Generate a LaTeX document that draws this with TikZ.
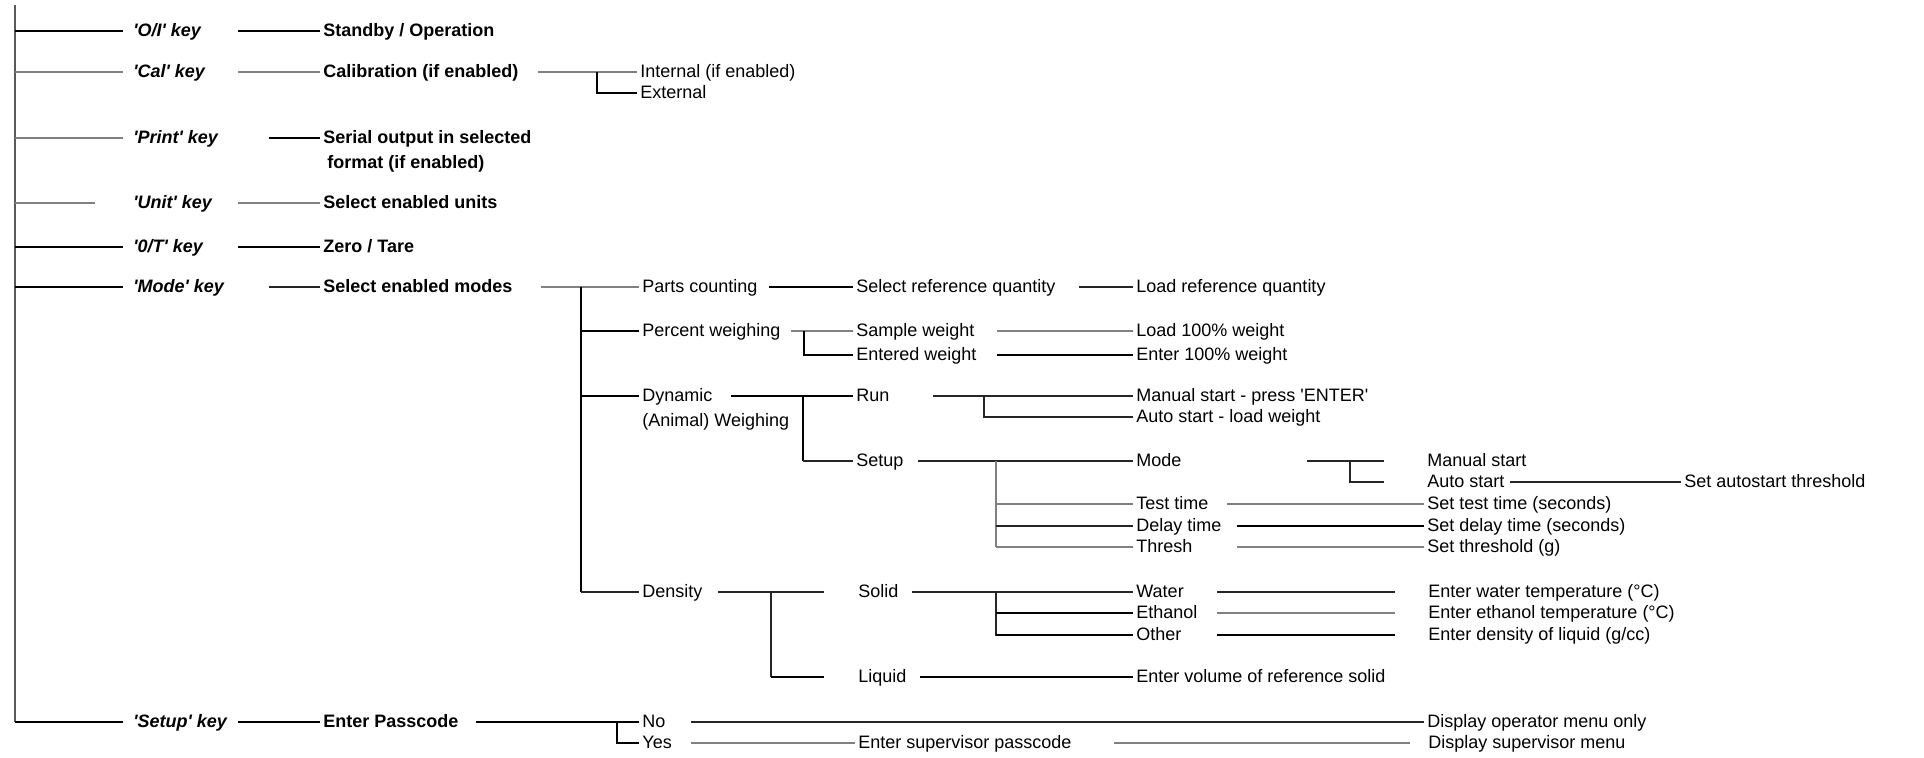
\documentclass[tikz,border=0pt]{standalone}
\usepackage{fontspec}
\setmainfont{Liberation Sans}[Ligatures=TeXOff]
\usetikzlibrary{positioning}

\begin{document}
\begin{tikzpicture}[x=0.5pt,y=-0.5pt,
    font=\fontsize{9}{11}\selectfont,
    every node/.style={anchor=west,inner sep=1.5pt,
        text height=1.55ex,text depth=.45ex},
    keytext/.style={font=\fontsize{9}{11}\selectfont\bfseries\itshape},
    action/.style={font=\fontsize{9}{11}\selectfont\bfseries},
    darkline/.style={line width=1.1pt},
    thinline/.style={line width=0.7pt,black!85},
    greyline/.style={line width=0.6pt,black!50},
    spineline/.style={line width=0.8pt,black!65}]

\useasboundingbox (0,0) rectangle (1924,757);

% Keys
\node[keytext] (oikey) at (130,31) {'O/I' key};
\node[keytext] (calkey) at (130,72) {'Cal' key};
\node[keytext] (printkey) at (130,138) {'Print' key};
\node[keytext] (unitkey) at (130,203) {'Unit' key};
\node[keytext] (zerokey) at (130,247) {'0/T' key};
\node[keytext] (modekey) at (130,287) {'Mode' key};
\node[keytext] (setupkey) at (130,722) {'Setup' key};

% Key actions
\node[action] (standby) at (320,31) {Standby / Operation};
\node[action] (calib) at (320,72) {Calibration (if enabled)};
\node[action] (serial) at (320,138) {Serial output in selected};
\node[action,
    below right=-1.5pt and 2pt of serial.south west
] (serialb) {format (if enabled)};
\node[action] (units) at (320,203) {Select enabled units};
\node[action] (zerotare) at (320,247) {Zero / Tare};
\node[action] (modes) at (320,287) {Select enabled modes};
\node[action] (passcode) at (320,722) {Enter Passcode};

% Calibration
\node (internal) at (637,72) {Internal (if enabled)};
\node (external) at (637,93) {External};

% Modes
\node (parts) at (639,287) {Parts counting};
\node (percent) at (639,331) {Percent weighing};
\node (dynamic) at (639,396) {Dynamic};
\node[below right=-1.5pt and 0pt of dynamic.south west] (dynamicb) {(Animal) Weighing};
\node (density) at (639,592) {Density};

\node (selref) at (853,287) {Select reference quantity};
\node (sample) at (853,331) {Sample weight};
\node (entered) at (853,355) {Entered weight};
\node (run) at (853,396) {Run};
\node (setup) at (853,461) {Setup};
\node (solid) at (855,592) {Solid};
\node (liquid) at (855,677) {Liquid};

\node (loadref) at (1133,287) {Load reference quantity};
\node (load100) at (1133,331) {Load 100\% weight};
\node (enter100) at (1133,355) {Enter 100\% weight};
\node (manstart) at (1133,396) {Manual start - press 'ENTER'};
\node (autoload) at (1133,417) {Auto start - load weight};
\node (smode) at (1133,461) {Mode};
\node (testtime) at (1133,504) {Test time};
\node (delay) at (1133,526) {Delay time};
\node (thresh) at (1133,547) {Thresh};
\node (water) at (1133,592) {Water};
\node (ethanol) at (1133,613) {Ethanol};
\node (other) at (1133,635) {Other};
\node (volume) at (1133,677) {Enter volume of reference solid};

\node (manual) at (1424,461) {Manual start};
\node (auto) at (1424,482) {Auto start};
\node (settest) at (1424,504) {Set test time (seconds)};
\node (setdelay) at (1424,526) {Set delay time (seconds)};
\node (setthresh) at (1424,547) {Set threshold (g)};
\node (watertemp) at (1425,592) {Enter water temperature (°C)};
\node (ethtemp) at (1425,613) {Enter ethanol temperature (°C)};
\node (dens) at (1425,635) {Enter density of liquid (g/cc)};
\node (autothr) at (1681,482) {Set autostart threshold};

% Setup passcode
\node (no) at (639,722) {No};
\node (yes) at (639,743) {Yes};
\node (supass) at (855,743) {Enter supervisor passcode};
\node (opmenu) at (1424,722) {Display operator menu only};
\node (supmenu) at (1425,743) {Display supervisor menu};

% Spine
\coordinate (spine) at (15,5);
\draw[spineline] (spine) -- (spine |- setupkey);

% Spine to keys
\draw[darkline] (spine |- oikey) -- ++(108,0);
\draw[greyline] (spine |- calkey) -- ++(108,0);
\draw[greyline] (spine |- printkey) -- ++(108,0);
\draw[greyline] (spine |- unitkey) -- ++(80,0);
\draw[darkline] (spine |- zerokey) -- ++(108,0);
\draw[darkline] (spine |- modekey) -- ++(108,0);
\draw[darkline] (spine |- setupkey) -- ++(108,0);

% Keys to actions
\draw[darkline] (standby.west) -- ++(-82,0);
\draw[greyline] (calib.west) -- ++(-82,0);
\draw[darkline] (serial.west) -- ++(-51,0);
\draw[greyline] (units.west) -- ++(-82,0);
\draw[darkline] (zerotare.west) -- ++(-82,0);
\draw[thinline] (modes.west) -- ++(-51,0);
\draw[darkline] (passcode.west) -- ++(-82,0);

% Calibration branch
\draw[greyline] (internal.west) -- ++(-99,0);
\draw[darkline] (internal.west) ++(-40,0) |- (external.west);

% Mode branch
\draw[greyline] (parts.west) -- ++(-98,0);
\draw[darkline] (parts.west) ++(-58,0) coordinate (mj) -- (mj |- density);
\draw[darkline] (mj |- percent) -- (percent.west);
\draw[darkline] (mj |- dynamic) -- (dynamic.west);
\draw[thinline] (mj |- density) -- (density.west);

\draw[darkline] (selref.west) -- ++(-84,0);
\draw[greyline] (sample.west) -- ++(-62,0);
\draw[darkline] (sample.west) ++(-49,0) |- (entered.west);
\draw[darkline] (run.west) -- ++(-122,0);
\draw[darkline] (run.west) ++(-50,0) coordinate (dj) -- (dj |- setup);
\draw[thinline] (dj |- setup) -- (setup.west);
\draw[thinline] (solid.west) ++(-31,0) -- ++(-106,0);
\draw[thinline] (solid.west) ++(-84,0) coordinate (sj) -- (sj |- liquid);
\draw[darkline] (sj |- liquid) -- ++(53,0);

\draw[thinline] (loadref.west) -- ++(-54,0);
\draw[greyline] (load100.west) -- ++(-136,0);
\draw[darkline] (enter100.west) -- ++(-136,0);
\draw[thinline] (manstart.west) -- ++(-200,0);
\draw[thinline] (manstart.west) ++(-149,0) |- (autoload.west);
\draw[thinline] (smode.west) -- ++(-215,0);
\draw[greyline] (smode.west) ++(-137,0) coordinate (tj) -- (tj |- thresh);
\draw[greyline] (testtime.west) -- ++(-137,0);
\draw[thinline] (delay.west) -- ++(-137,0);
\draw[greyline] (thresh.west) -- ++(-137,0);
\draw[thinline] (water.west) -- ++(-221,0);
\draw[thinline] (water.west) ++(-137,0) |- (other.west);
\draw[darkline] (ethanol.west) -- ++(-137,0);
\draw[darkline] (other.west) -- ++(-137,0);
\draw[darkline] (volume.west) -- ++(-213,0);

\draw[thinline] (manual.west) ++(-40,0) -- ++(-77,0);
\draw[thinline] (manual.west) ++(-74,0) -- ++(0,21) -- ++(34,0);
\draw[thinline] (autothr.west) -- ++(-171,0);
\draw[greyline] (settest.west) -- ++(-197,0);
\draw[darkline] (setdelay.west) -- ++(-187,0);
\draw[greyline] (setthresh.west) -- ++(-187,0);
\draw[thinline] (watertemp.west) ++(-30,0) -- ++(-178,0);
\draw[greyline] (ethtemp.west) ++(-30,0) -- ++(-178,0);
\draw[darkline] (dens.west) ++(-30,0) -- ++(-178,0);

% Passcode branch
\draw[darkline] (no.west) -- ++(-163,0);
\draw[darkline] (no.west) ++(-22,0) |- (yes.west);
\draw[thinline] (opmenu.west) -- ++(-733,0);
\draw[greyline] (supass.west) -- ++(-164,0);
\draw[greyline] (supmenu.west) ++(-15,0) -- ++(-296,0);

\end{tikzpicture}
\end{document}
